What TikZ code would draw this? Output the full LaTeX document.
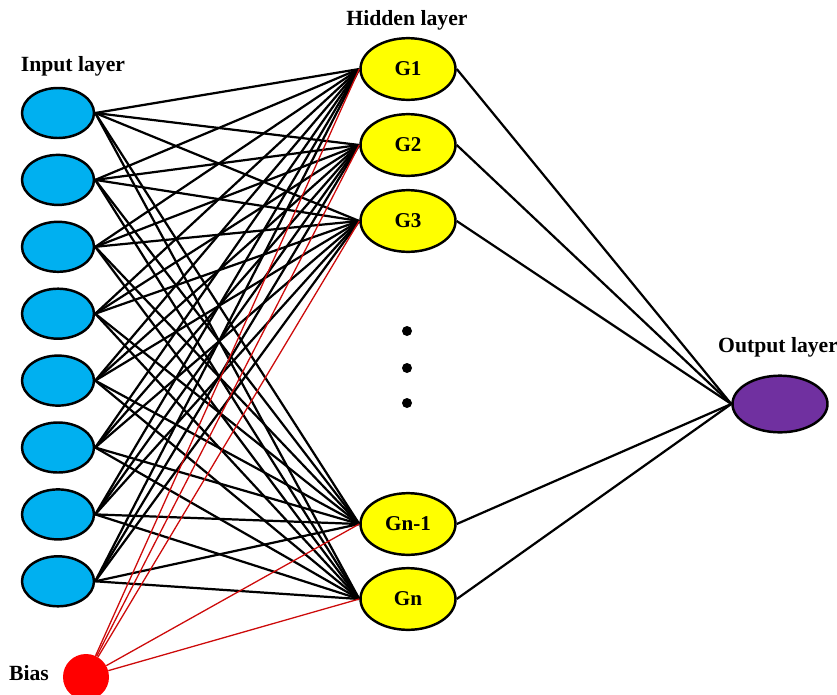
\documentclass[tikz,border=0pt]{standalone}
\usepackage{fontspec}
\setmainfont{Liberation Serif}
\usetikzlibrary{shapes.geometric,positioning}
\definecolor{incyan}{RGB}{0,176,240}
\definecolor{hidyellow}{RGB}{255,255,0}
\definecolor{outpurple}{RGB}{112,48,160}
\definecolor{biasred}{RGB}{255,0,0}
\definecolor{wirered}{RGB}{205,10,10}

\tikzset{
  neuron/.style={ellipse,draw=black,line width=2.1pt,inner sep=0pt},
  inneuron/.style={neuron,fill=incyan,minimum width=2.16cm,minimum height=1.5cm},
  hidneuron/.style={neuron,fill=hidyellow,minimum width=2.85cm,minimum height=1.85cm},
  outneuron/.style={neuron,fill=outpurple,minimum width=2.85cm,minimum height=1.7cm},
  biasnode/.style={circle,fill=biasred,minimum size=1.38cm,inner sep=0pt},
  vdot/.style={circle,fill=black,minimum size=0.3cm,inner sep=0pt},
  layerlabel/.style={font=\fontsize{18.5}{20}\selectfont\bfseries},
  wire/.style={black,line width=1.9pt},
  biaswire/.style={wirered,line width=1.1pt}
}

\begin{document}
\begin{tikzpicture}[x=0.03cm,y=-0.03cm,
  every node/.style={font=\fontsize{18}{20}\selectfont\bfseries}]
\useasboundingbox (0,0) rectangle (837,694);

% input layer
\foreach \i in {1,...,8}
  \node[inneuron] (in\i) at (58,{113+(\i-1)*66.9}) {};

% hidden layer
\node[hidneuron] (h1) at (408,69) {G1};
\node[hidneuron] (h2) at (408,145) {G2};
\node[hidneuron] (h3) at (408,221) {G3};
\node[hidneuron] (h4) at (408,524) {Gn-1};
\node[hidneuron] (h5) at (408,599) {Gn};
\node[vdot] (d1) at (407,331) {};
\node[vdot] (d2) at (407,368) {};
\node[vdot] (d3) at (407,403) {};

% output layer and bias
\node[outneuron] (out) at (780,404) {};
\node[biasnode] (bias) at (86,677) {};

% labels
\node[layerlabel] (lin) at (73,66) {Input layer};
\node[layerlabel] (lhid) at (407,20) {Hidden layer};
\node[layerlabel,anchor=west] (lout) at (714,347) {Output layer};
\node[layerlabel] (lbias) at (29,673) {Bias};

% connections
\foreach \i in {1,...,8}
  \foreach \j in {1,...,5}
    \draw[wire] (in\i.east) -- (h\j.west);
\foreach \j in {1,...,5}
  \draw[biaswire] (bias) -- (h\j.west);
\foreach \j in {1,...,5}
  \draw[wire] (h\j.east) -- (out.west);
\end{tikzpicture}
\end{document}
